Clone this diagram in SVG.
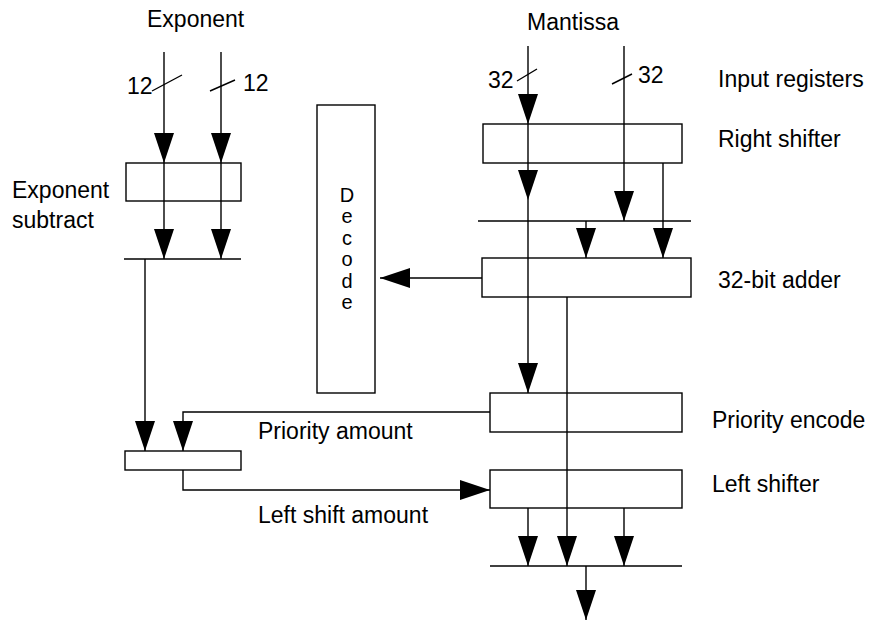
<svg xmlns="http://www.w3.org/2000/svg" width="877" height="622" viewBox="0 0 877 622">
<style>
.box{fill:#fff;stroke:#000;stroke-width:1.4}
.ln{fill:none;stroke:#000;stroke-width:1.4}
.ar{marker-end:url(#ah)}
text{font-family:"Liberation Sans",Arial,sans-serif;font-size:23px;fill:#000}
.c{text-anchor:middle;font-size:20px}
</style>
<defs>
<marker id="ah" viewBox="0 0 30 20" refX="30" refY="10" markerWidth="30" markerHeight="20" markerUnits="userSpaceOnUse" orient="auto">
<path d="M0,0 L30,10 L0,20 z" fill="#000"/>
</marker>
</defs>
<rect width="877" height="622" fill="#fff"/>
<g id="exp-subtract"><rect class="box" x="126" y="163" width="115" height="38"/></g>
<g id="shift-amount"><rect class="box" x="125" y="451" width="116" height="19"/></g>
<g id="decode"><rect class="box" x="317" y="105" width="58" height="288"/>
<text class="c" x="347" y="202">D</text><text class="c" x="347" y="223">e</text><text class="c" x="347" y="245">c</text><text class="c" x="347" y="266">o</text><text class="c" x="347" y="288">d</text><text class="c" x="347" y="309">e</text></g>
<g id="right-shifter"><rect class="box" x="483" y="124" width="199" height="39"/></g>
<g id="adder"><rect class="box" x="482" y="258" width="209" height="39"/></g>
<g id="priority-encode"><rect class="box" x="490" y="393" width="192" height="39"/></g>
<g id="left-shifter"><rect class="box" x="490" y="470" width="192" height="38"/></g>
<g id="connectors">
<path class="ln ar" d="M164,52 V163"/><path class="ln ar" d="M164,163 V259"/>
<path class="ln ar" d="M221,52 V163"/><path class="ln ar" d="M221,163 V259"/>
<path class="ln" d="M152,91 L182,75 M210,91 L235,80"/>
<path class="ln" d="M124,259 H241"/>
<path class="ln ar" d="M145,259 V451"/>
<path class="ln ar" d="M490,412 H183 V451"/>
<path class="ln ar" d="M183,470 V490 H490"/>
<path class="ln ar" d="M528,46 V124"/><path class="ln ar" d="M528,124 V200"/><path class="ln ar" d="M528,200 V393"/>
<path class="ln ar" d="M624,46 V221"/>
<path class="ln" d="M517,81 L537,69 M612,84 L632,74"/>
<path class="ln ar" d="M663,163 V258"/>
<path class="ln" d="M478,221 H691"/>
<path class="ln ar" d="M586,221 V258"/>
<path class="ln ar" d="M482,278 H380"/>
<path class="ln ar" d="M567,297 V566"/>
<path class="ln ar" d="M528,508 V566"/><path class="ln ar" d="M624,508 V566"/>
<path class="ln" d="M490,566 H682"/>
<path class="ln ar" d="M586,566 V620"/>
</g>
<g id="labels">
<text x="147" y="27">Exponent</text>
<text x="527" y="30">Mantissa</text>
<text x="127" y="94">12</text><text x="243" y="91">12</text>
<text x="488" y="88">32</text><text x="638" y="83">32</text>
<text x="718" y="87">Input registers</text>
<text x="718" y="147">Right shifter</text>
<text x="718" y="288">32-bit adder</text>
<text x="712" y="428">Priority encode</text>
<text x="712" y="492">Left shifter</text>
<text x="12" y="198">Exponent</text>
<text x="12" y="228">subtract</text>
<text x="258" y="439">Priority amount</text>
<text x="258" y="523">Left shift amount</text>
</g>
</svg>
